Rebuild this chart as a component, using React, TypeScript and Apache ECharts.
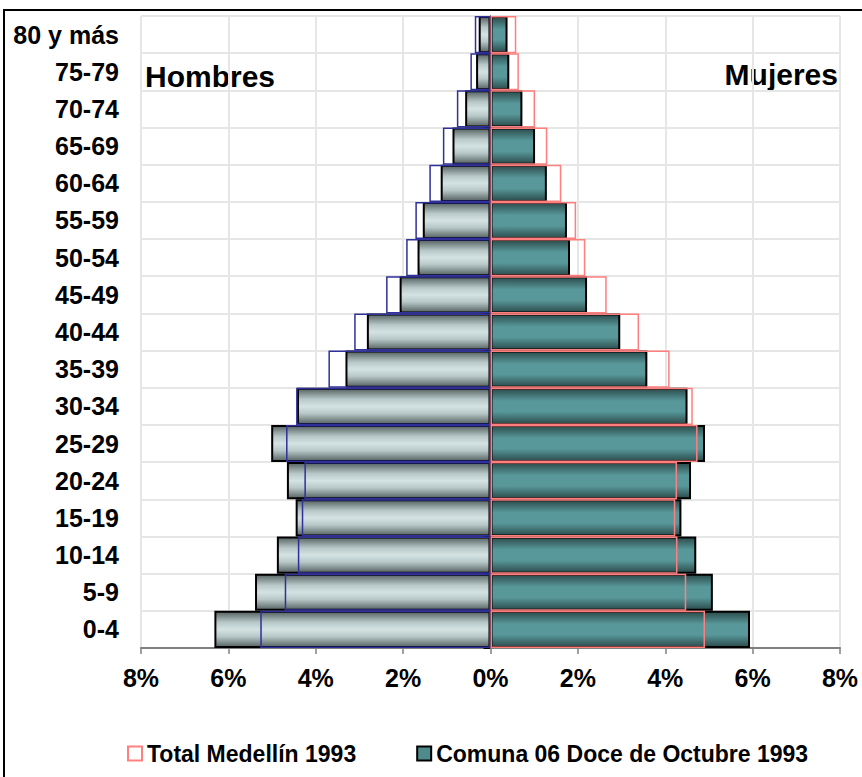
import React, { useEffect, useRef } from "react";
import * as echarts from "echarts";

// Age groups, bottom to top
const categories = [
  "0-4", "5-9", "10-14", "15-19", "20-24", "25-29", "30-34", "35-39",
  "40-44", "45-49", "50-54", "55-59", "60-64", "65-69", "70-74", "75-79", "80 y más",
];

// Percent of population
const maleComuna = [6.32, 5.39, 4.89, 4.46, 4.66, 5.02, 4.43, 3.32, 2.83, 2.08, 1.67, 1.55, 1.14, 0.87, 0.58, 0.33, 0.27];
const femaleComuna = [5.94, 5.09, 4.71, 4.37, 4.59, 4.91, 4.51, 3.59, 2.97, 2.21, 1.82, 1.75, 1.29, 1.02, 0.73, 0.43, 0.39];
const maleMedellin = [5.27, 4.71, 4.41, 4.32, 4.26, 4.68, 4.45, 3.71, 3.12, 2.39, 1.93, 1.72, 1.40, 1.09, 0.77, 0.46, 0.36];
const femaleMedellin = [4.91, 4.48, 4.28, 4.23, 4.27, 4.74, 4.63, 4.10, 3.40, 2.66, 2.17, 1.96, 1.62, 1.30, 1.02, 0.65, 0.59];

const xTicks = { min: -8, max: 8, interval: 2 };
const nameMedellin = "Total Medellín 1993";
const nameComuna = "Comuna 06 Doce de Octubre 1993";

const FONT = "'Liberation Sans', Arial, sans-serif";

export default function App() {
  const ref = useRef<HTMLDivElement>(null);

  useEffect(() => {
    if (!ref.current) return;
    const chart = echarts.init(ref.current, undefined, { renderer: "svg" });

    const grayGrad = {
      type: "linear", x: 0, y: 0, x2: 0, y2: 1,
      colorStops: [
        { offset: 0, color: "#566262" },
        { offset: 0.3, color: "#b8c8c8" },
        { offset: 0.5, color: "#d4e2e2" },
        { offset: 0.7, color: "#b8c8c8" },
        { offset: 1, color: "#566262" },
      ],
    };
    const tealGrad = {
      type: "linear", x: 0, y: 0, x2: 0, y2: 1,
      colorStops: [
        { offset: 0, color: "#2c4b4c" },
        { offset: 0.35, color: "#58989a" },
        { offset: 0.65, color: "#58989a" },
        { offset: 1, color: "#2c4b4c" },
      ],
    };

    const barCommon = {
      type: "bar",
      barCategoryGap: "0%",
      barGap: "-100%",
      yAxisIndex: 0,
    };

    const option: any = {
      animation: false,
      textStyle: { fontFamily: FONT },
      grid: { left: 141, right: 22, top: 16, bottom: 129, containLabel: false },
      xAxis: {
        type: "value",
        min: xTicks.min,
        max: xTicks.max,
        interval: xTicks.interval,
        axisLabel: {
          formatter: (v: number) => Math.abs(v) + "%",
          fontSize: 25,
          fontWeight: "bold",
          color: "#000",
          fontFamily: FONT,
          margin: 17,
        },
        axisLine: { show: true, onZero: false, lineStyle: { color: "#808080", width: 2 } },
        axisTick: { show: true, length: 6, lineStyle: { color: "#808080", width: 1.5 } },
        splitLine: { show: true, lineStyle: { color: "#e6e6e6", width: 2 } },
      },
      yAxis: [
        {
          type: "category",
          data: categories,
          position: "left",
          axisLine: { show: false, onZero: false },
          axisTick: { show: false },
          axisLabel: { fontSize: 25, fontWeight: "bold", color: "#000", fontFamily: FONT, margin: 22 },
          splitLine: { show: true, lineStyle: { color: "#e6e6e6", width: 2 } },
        },
        {
          type: "category",
          data: categories,
          position: "left",
          axisLine: { show: true, onZero: true, lineStyle: { color: "#000", width: 1 } },
          axisTick: { show: true, length: 7, inside: false, lineStyle: { color: "#000", width: 1 } },
          axisLabel: { show: false },
          splitLine: { show: false },
        },
      ],
      legend: {
        left: 127,
        top: 742,
        padding: 0,
        itemWidth: 14,
        itemHeight: 14,
        itemGap: 60,
        icon: "rect",
        textStyle: { fontSize: 23, fontWeight: "bold", color: "#000", fontFamily: FONT },
        data: [
          { name: nameMedellin, itemStyle: { color: "#ffffff", borderColor: "#ff8080", borderWidth: 2 } },
          { name: nameComuna, itemStyle: { color: "#4f8a8c", borderColor: "#000000", borderWidth: 2 } },
        ],
      },
      series: [
        {
          ...barCommon,
          name: nameComuna,
          data: maleComuna.map((v) => -v),
          itemStyle: { color: grayGrad, borderColor: "#000", borderWidth: 2 },
        },
        {
          ...barCommon,
          name: nameComuna,
          data: femaleComuna,
          itemStyle: { color: tealGrad, borderColor: "#000", borderWidth: 2 },
        },
        {
          ...barCommon,
          name: nameMedellin,
          data: maleMedellin.map((v) => -v),
          itemStyle: { color: "rgba(0,0,0,0)", borderColor: "#30309a", borderWidth: 1.5 },
        },
        {
          ...barCommon,
          name: nameMedellin,
          data: femaleMedellin,
          itemStyle: { color: "rgba(0,0,0,0)", borderColor: "#ff7f7f", borderWidth: 1.5 },
        },
      ],
      graphic: [
        {
          type: "rect",
          shape: { x: 4, y: 10, width: 1000, height: 1000 },
          style: { fill: "none", stroke: "#000", lineWidth: 2 },
          silent: true,
        },
        {
          type: "text",
          x: 145,
          y: 76,
          style: {
            text: "Hombres",
            fontSize: 30,
            fontWeight: "bold",
            fontFamily: FONT,
            fill: "#000",
            textAlign: "left",
            textVerticalAlign: "middle",
          },
        },
        {
          type: "text",
          x: 838,
          y: 74,
          style: {
            text: "Mujeres",
            fontSize: 30,
            fontWeight: "bold",
            fontFamily: FONT,
            fill: "#000",
            textAlign: "right",
            textVerticalAlign: "middle",
          },
        },
      ],
    };

    chart.setOption(option);
    return () => chart.dispose();
  }, []);

  return (
    <div
      ref={ref}
      style={{ position: "absolute", left: 0, top: 0, width: 862, height: 777, background: "#fff" }}
    />
  );
}
